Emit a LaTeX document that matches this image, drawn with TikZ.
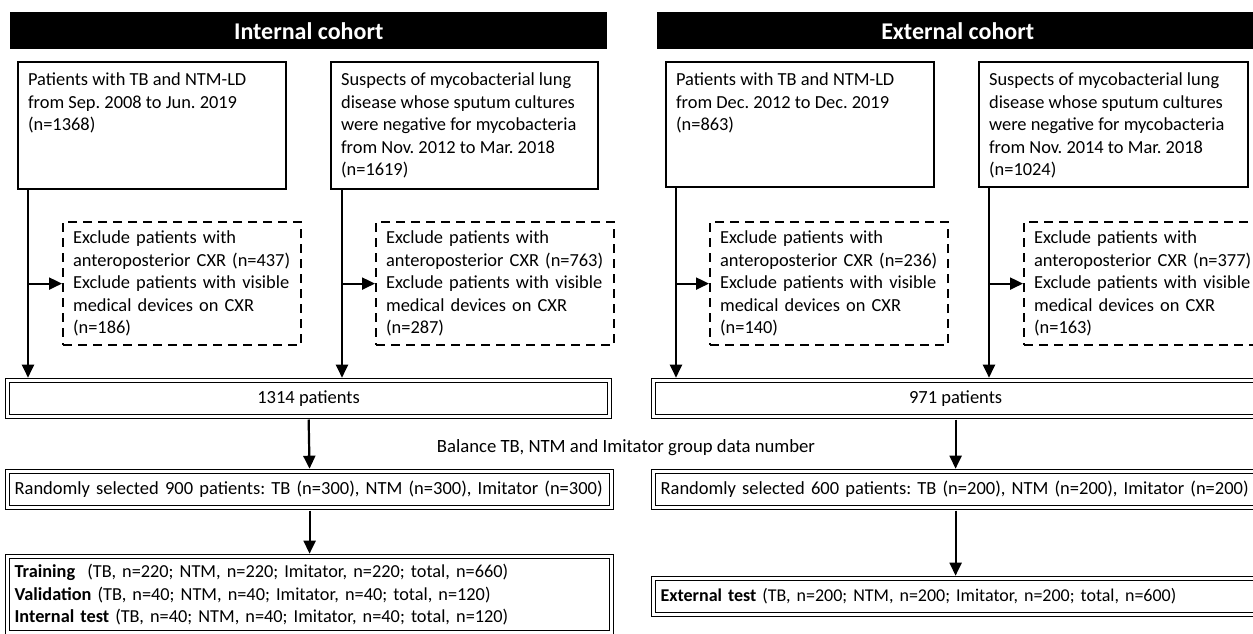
\documentclass[tikz,border=0pt]{standalone}
\usepackage{fontspec}
\setmainfont{Carlito}
\usetikzlibrary{arrows.meta}
\begin{document}
\frenchspacing
\begin{tikzpicture}[x=1pt,y=-1pt,
  every node/.style={font=\fontsize{18.5}{22}\selectfont},
  bigtxt/.style={font=\fontsize{18.4}{22.5}\selectfont},
  hdr/.style={fill=black, text=white, font=\fontsize{24}{28}\selectfont\bfseries, minimum height=37pt, inner sep=0pt, anchor=north west},
  solidbox/.style={draw, line width=2.2pt, anchor=north west, inner xsep=10pt, inner ysep=11pt, bigtxt},
  dashbox/.style={draw, line width=2.2pt, dash pattern=on 9pt off 6pt, anchor=north west, minimum height=123pt, minimum width=238pt, text width=218pt, inner xsep=10pt, align=left, bigtxt},
  dblbox/.style={draw, line width=1.2pt, double=white, double distance=2.3pt, anchor=north west, inner xsep=7pt},
  arr/.style={line width=2.2pt, -{Triangle[length=13pt,width=12pt]}},
  dblend/.style={shorten >=2.3pt},
  dblstart/.style={shorten <=2.3pt},
]
\path[use as bounding box, fill=white] (0,0) rectangle (1253,634);

% headers
\node[hdr, minimum width=597pt] (h1) at (10,12) {Internal cohort};
\node[hdr, minimum width=601pt] (h2) at (657,12) {External cohort};

% top boxes
\node[solidbox] (ta) at (17,61) {\parbox[t][105pt][t]{248pt}{\raggedright Patients with TB and NTM-LD\\from Sep. 2008 to Jun. 2019\\(n=1368)}};
\node[solidbox] (tb) at (330,61) {\parbox[t][105pt][t]{247pt}{\raggedright Suspects of mycobacterial lung\\disease whose sputum cultures\\were negative for mycobacteria\\from Nov. 2012 to Mar. 2018\\(n=1619)}};
\node[solidbox] (tc) at (665,61) {\parbox[t][103pt][t]{248pt}{\raggedright Patients with TB and NTM-LD\\from Dec. 2012 to Dec. 2019\\(n=863)}};
\node[solidbox] (td) at (978,61) {\parbox[t][103pt][t]{249pt}{\raggedright Suspects of mycobacterial lung\\disease whose sputum cultures\\were negative for mycobacteria\\from Nov. 2014 to Mar. 2018\\(n=1024)}};

% exclusion boxes
\node[dashbox] (ea) at (62,221) {Exclude patients with\\anteroposterior CXR (n=437)\\Exclude patients with visible\\medical devices on CXR\\(n=186)};
\node[dashbox] (eb) at (375,221) {Exclude patients with\\anteroposterior CXR (n=763)\\Exclude patients with visible\\medical devices on CXR\\(n=287)};
\node[dashbox] (ec) at (709,221) {Exclude patients with\\anteroposterior CXR (n=236)\\Exclude patients with visible\\medical devices on CXR\\(n=140)};
\node[dashbox] (ed) at (1023,221) {Exclude patients with\\anteroposterior CXR (n=377)\\Exclude patients with visible\\medical devices on CXR\\(n=163)};

% pooled boxes
\node[dblbox, minimum width=602pt, minimum height=36pt] (p1) at (7,380) {1314 patients};
\node[dblbox, minimum width=604pt, minimum height=36pt] (p2) at (653,380) {971 patients};

\node[font=\fontsize{18.7}{22}\selectfont] (bal) at (626,448) {Balance TB, NTM and Imitator group data number};

% random selection
\node[dblbox, minimum width=604pt, minimum height=36pt, text width=590pt, align=left] (r1) at (7,471) {Randomly selected 900 patients: TB (n=300), NTM (n=300), Imitator (n=300)};
\node[dblbox, minimum width=604pt, minimum height=36pt, text width=590pt, align=left] (r2) at (653,471) {Randomly selected 600 patients: TB (n=200), NTM (n=200), Imitator (n=200)};

% final sets
\node[dblbox, minimum width=604pt, minimum height=76pt, text width=590pt, align=left, font=\fontsize{18.3}{22.5}\selectfont] (s1) at (7,556) {\textbf{Training}\ \ (TB, n=220; NTM, n=220; Imitator, n=220; total, n=660)\\\textbf{Validation} (TB, n=40; NTM, n=40; Imitator, n=40; total, n=120)\\\textbf{Internal test} (TB, n=40; NTM, n=40; Imitator, n=40; total, n=120)};
\node[dblbox, minimum width=604pt, minimum height=36pt, text width=590pt, align=left, font=\fontsize{18}{22}\selectfont] (s2) at (653,578) {\textbf{External test} (TB, n=200; NTM, n=200; Imitator, n=200; total, n=600)};

% connectors
\coordinate (va) at ([xshift=11pt]ta.south west);
\coordinate (vb) at ([xshift=12pt]tb.south west);
\coordinate (vc) at ([xshift=11pt]tc.south west);
\coordinate (vd) at ([xshift=11pt]td.south west);
\draw[arr, dblend] (va) -- (va |- p1.north);
\draw[arr, dblend] (vb) -- (vb |- p1.north);
\draw[arr, dblend] (vc) -- (vc |- p2.north);
\draw[arr, dblend] (vd) -- (vd |- p2.north);
\draw[arr] (va |- ea.west) -- (ea.west);
\draw[arr] (vb |- eb.west) -- (eb.west);
\draw[arr] (vc |- ec.west) -- (ec.west);
\draw[arr] (vd |- ed.west) -- (ed.west);

\draw[arr, dblstart, dblend] (p1.south) -- (r1.north);
\draw[arr, dblstart, dblend] (p2.south) -- (r2.north);
\draw[arr, dblstart, dblend] (r1.south) -- (r1.south |- s1.north);
\draw[arr, dblstart, dblend] (r2.south) -- (r2.south |- s2.north);
\end{tikzpicture}
\end{document}
